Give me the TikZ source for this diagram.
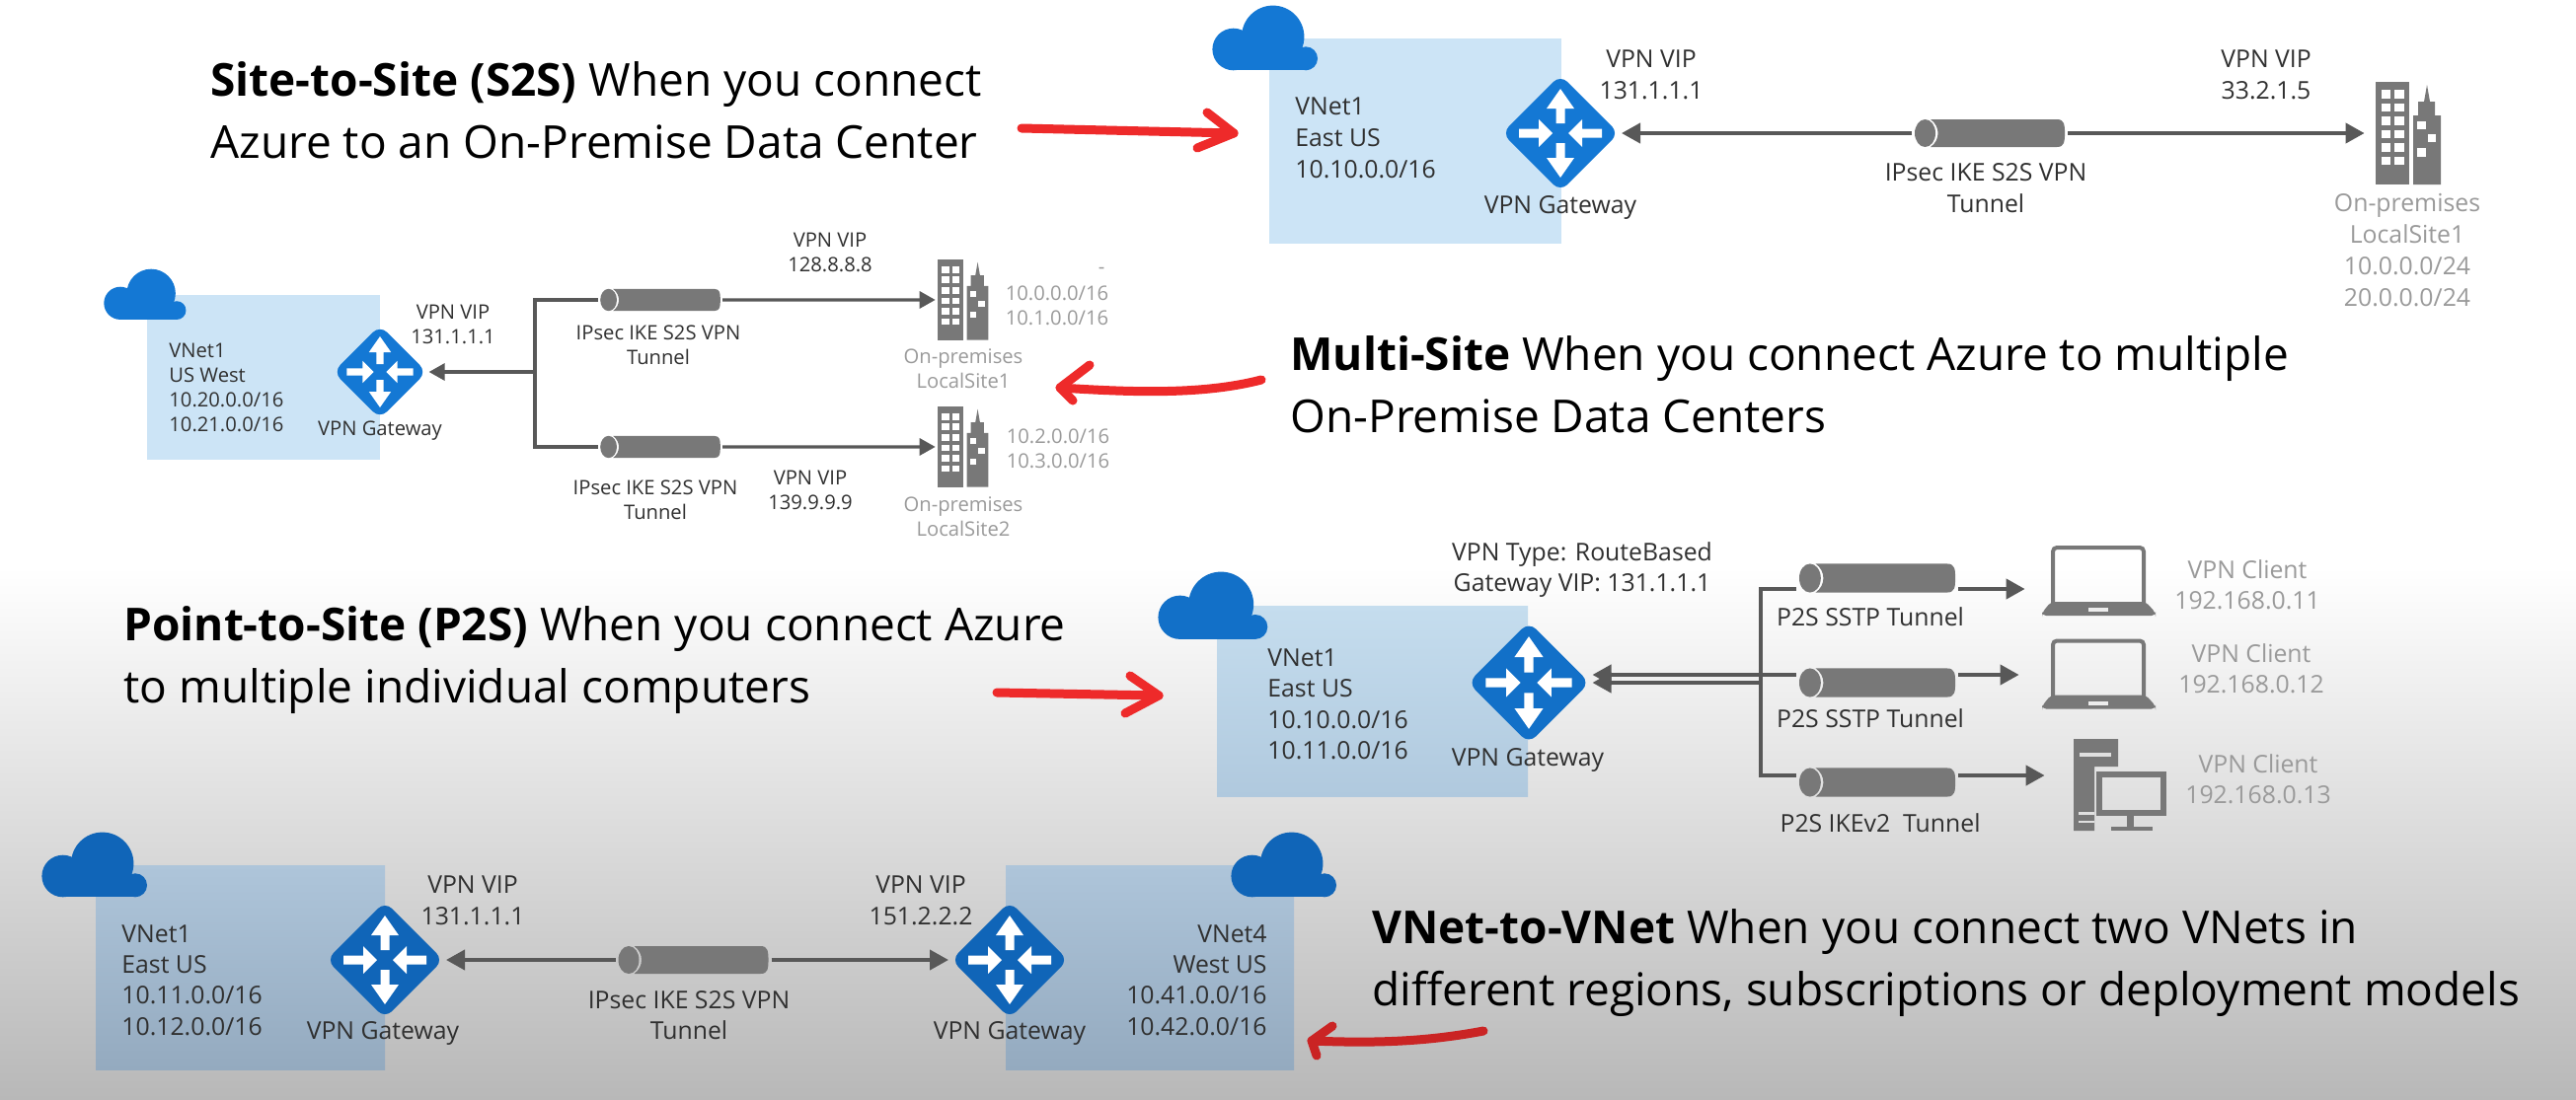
\documentclass[tikz,border=0pt]{standalone}
\usepackage{fontspec}
\setmainfont{Open Sans}
\usetikzlibrary{arrows.meta,shapes.geometric}

\definecolor{azure}{HTML}{1478D4}
\definecolor{azuremid}{HTML}{1270C8}
\definecolor{azuredeep}{HTML}{1065B8}
\definecolor{iconink}{HTML}{787878}
\definecolor{wireink}{HTML}{585858}
\definecolor{labelink}{HTML}{303030}
\definecolor{siteink}{HTML}{9A9A9A}
\definecolor{redink}{HTML}{EE2A2A}
\definecolor{paleblue}{HTML}{CCE4F6}
\definecolor{midtop}{HTML}{C5DDEE}
\definecolor{midbottom}{HTML}{B0C9DE}
\definecolor{deeptop}{HTML}{AEC5DA}
\definecolor{deepbottom}{HTML}{94AABF}
\definecolor{bgend}{HTML}{B8B8B8}

\begin{document}
\begin{tikzpicture}[
    x=.5pt, y=-.5pt,
    vnet/.style={rectangle, inner sep=0pt},
    label/.style={font=\fontsize{12.4}{16}\selectfont, text=labelink, align=center, inner sep=0pt},
    smalllabel/.style={label, font=\fontsize{10.1}{12.5}\selectfont},
    midlabel/.style={label, font=\fontsize{12.4}{15.7}\selectfont},
    headline/.style={font=\fontsize{23}{31.5}\selectfont, align=left, anchor=west, inner sep=0pt},
    wire/.style={draw=wireink, line width=2pt},
    link/.style={wire, -{Triangle[length=9.5pt,width=10pt]}},
    smallwire/.style={draw=wireink, line width=1.6pt},
    smalllink/.style={smallwire, -{Triangle[length=8pt,width=8.5pt]}},
    redmark/.style={draw=redink, line width=4.5pt, line cap=round, line join=round},
    cloud/.pic={
        \fill[#1] (21.7,44) circle[radius=21.3];
        \fill[#1] (61.7,31.3) circle[radius=31.7];
        \fill[#1] (95,53.3) circle[radius=12];
        \fill[#1] (21.7,44) rectangle (95,65.3);
    },
    gate/.pic={
        \node[diamond, aspect=1, rounded corners=5pt, inner sep=0pt, outer sep=1pt, minimum size=60pt, transform shape, fill=#1] (-hub) at (0,0) {};
        \foreach \turn in {0,180} {
            \fill[white, rotate=\turn] (-4.5,-10) -- (-4.5,-25) -- (-14,-25) -- (0,-45) -- (14,-25) -- (4.5,-25) -- (4.5,-10) -- cycle;
            \fill[white, rotate=\turn] (-42,-4.5) -- (-22,-4.5) -- (-22,-14) -- (-8,0) -- (-22,14) -- (-22,4.5) -- (-42,4.5) -- cycle;
        }
    },
    tube/.pic={
        \node[rectangle, inner sep=0pt, outer sep=1.5pt, minimum width=76pt, minimum height=14pt, transform shape] (-body) at (0,0) {};
        \fill[iconink] (-65.5,0) ellipse[x radius=10.5, y radius=14];
        \fill[iconink] (-60,-14) .. controls (-50,-7) and (-50,7) .. (-60,14) -- (68,14) .. controls (76,14) and (76,8) .. (76,0) .. controls (76,-8) and (76,-14) .. (68,-14) -- cycle;
    },
    tower/.pic={
        \node[rectangle, inner sep=0pt, minimum width=33pt, minimum height=52pt, transform shape] (-body) at (33,52) {};
        \fill[iconink] (0,0) rectangle (33.7,104);
        \fill[iconink] (38,104) -- (38,34) -- (43,34) -- (43,20) -- (49,20) -- (52,3) -- (55,20) -- (60,20) -- (60,34) -- (66,34) -- (66,104) -- cycle;
        \foreach \row in {0,...,5} \foreach \col in {0,1}
            \fill[white] ({5.5+13.5*\col},{8.4+13.5*\row}) rectangle +(9.7,8.4);
        \fill[white] (42,40) rectangle +(8.6,8);
        \fill[white] (53,53) rectangle +(8,8);
        \fill[white] (42,67) rectangle +(8.6,8.5);
    },
    laptop/.pic={
        \node[rectangle, inner sep=0pt, minimum width=57.5pt, minimum height=35.5pt] (-body) at (57.5,35.5) {};
        \draw[iconink, line width=2pt, rounded corners=2pt] (11,60) -- (11,2) -- (103,2) -- (103,60);
        \fill[iconink, rounded corners=2pt] (9,57) -- (105,57) -- (115,68) -- (115,71) -- (0,71) -- (0,68) -- cycle;
        \fill[white!93!black] (47,63) rectangle (67,67);
    },
    desktop/.pic={
        \node[rectangle, inner sep=0pt, minimum width=46pt, minimum height=46.5pt] (-body) at (46,46.5) {};
        \fill[iconink] (0,0) -- (45,0) -- (45,28) -- (21,28) -- (21,93) -- (0,93) -- cycle;
        \fill[white!88!black] (6,14) rectangle (38,18);
        \fill[white!88!black] (5,74) rectangle (21,77);
        \fill[white!88!black] (5,83) rectangle (21,85);
        \draw[iconink, line width=3pt] (26,36) rectangle (91,75);
        \fill[iconink] (54,76) rectangle (61,90);
        \fill[iconink] (38,89) rectangle (80,93);
    }
]

\useasboundingbox (0,0) rectangle (2610,1114);
\fill[white] (0,0) rectangle (2610,575);
\shade[top color=white, bottom color=bgend] (0,575) rectangle (2610,1114);

\node[headline] (s2stext) at (213,112) {{\bfseries Site-to-Site (S2S)} When you connect\\Azure to an On-Premise Data Center};
\node[headline] (mstext) at (1307,390) {{\bfseries Multi-Site} When you connect Azure to multiple\\On-Premise Data Centers};
\node[headline] (p2stext) at (125,669) {{\bfseries Point-to-Site (P2S)} When you connect Azure\\to multiple individual computers};
\node[headline] (vvtext) at (1390,976) {{\bfseries VNet-to-VNet} When you connect two VNets in\\different regions, subscriptions or deployment models};

\node[vnet, fill=paleblue, minimum width=148pt, minimum height=104pt] (s2sbox) at (1434,143) {};
\pic at (1228,6) {cloud=azure};
\pic (s2sgate) at (1581,135) {gate=azure};
\pic (s2stube) at (2016,135) {tube};
\pic (s2ssite) at (2407,83) {tower};
\node[label, anchor=west, align=left] (s2snet) at (1312,140) {VNet1\\East US\\10.10.0.0/16};
\node[label] (s2sgatename) at (1581,210) {VPN Gateway};
\node[label] (s2svip) at (1673,76) {VPN VIP\\131.1.1.1};
\node[label] (s2ssitevip) at (2296,76) {VPN VIP\\33.2.1.5};
\node[label] (s2stubename) at (2012,191) {IPsec IKE S2S VPN\\Tunnel};
\node[label, text=siteink] (s2ssitename) at (2439,254) {On-premises\\LocalSite1\\10.0.0.0/24\\20.0.0.0/24};
\draw[link] (s2stube-body.west) -- (s2sgate-hub.east);
\draw[link, shorten >=5.5pt] (s2stube-body.east) -- (s2ssite-body.west);

\node[vnet, fill=paleblue, minimum width=118pt, minimum height=83.5pt] (msbox) at (267,382.5) {};
\pic[scale=.78] at (105,273) {cloud=azure};
\pic[scale=.8] (msgate) at (385,377) {gate=azure};
\pic[scale=.8] (mstube1) at (669,304) {tube};
\pic[scale=.8] (mstube2) at (669,453) {tube};
\pic[scale=.78] (mssite1) at (950,263.4) {tower};
\pic[scale=.78] (mssite2) at (950,412.4) {tower};
\coordinate (msjoin) at (542,377);
\node[smalllabel, anchor=west, align=left] (msnet) at (171,393) {VNet1\\US West\\10.20.0.0/16\\10.21.0.0/16};
\node[smalllabel] (msgatename) at (385,437) {VPN Gateway};
\node[smalllabel] (msvip) at (459,329) {VPN VIP\\131.1.1.1};
\node[smalllabel] (msvip1) at (841,256) {VPN VIP\\128.8.8.8};
\node[smalllabel] (msvip2) at (821,497) {VPN VIP\\139.9.9.9};
\node[smalllabel] (mstubename1) at (667,350) {IPsec IKE S2S VPN\\Tunnel};
\node[smalllabel] (mstubename2) at (664,507) {IPsec IKE S2S VPN\\Tunnel};
\node[smalllabel, text=siteink] (mssitename1) at (976,374) {On-premises\\LocalSite1};
\node[smalllabel, text=siteink] (mssitename2) at (976,524) {On-premises\\LocalSite2};
\node[smalllabel, text=siteink] (msnets1) at (1071,310) {10.0.0.0/16\\10.1.0.0/16};
\node[smalllabel, text=siteink] (msnets2) at (1072,455) {10.2.0.0/16\\10.3.0.0/16};
\node[smalllabel, text=siteink] (msspeck) at (1116,274) {-};
\draw[smalllink] (msjoin) -- (msgate-hub.east);
\draw[smallwire] (mstube1-body.west) -| (msjoin);
\draw[smallwire] (mstube2-body.west) -| (msjoin);
\draw[smalllink, shorten >=1pt] (mstube1-body.east) -- (mssite1-body.west);
\draw[smalllink, shorten >=1pt] (mstube2-body.east) -- (mssite2-body.west);

\node[vnet, top color=midtop, bottom color=midbottom, minimum width=157.5pt, minimum height=96.5pt] (p2sbox) at (1390.5,710.5) {};
\pic[scale=1.04] at (1173,580) {cloud=azuremid};
\pic[scale=1.04] (p2sgate) at (1549,692) {gate=azuremid};
\pic[scale=1.04] (p2stube1) at (1902,586) {tube};
\pic[scale=1.04] (p2stube2) at (1902,692) {tube};
\pic[scale=1.04] (p2stube3) at (1902,793) {tube};
\pic (p2spc1) at (2069,553) {laptop};
\pic (p2spc2) at (2069,647.5) {laptop};
\pic (p2spc3) at (2101,749) {desktop};
\coordinate (p2sjoin) at (1784,692);
\node[midlabel, anchor=west, align=left] (p2snet) at (1284,714) {VNet1\\East US\\10.10.0.0/16\\10.11.0.0/16};
\node[midlabel] (p2sgatename) at (1548,770) {VPN Gateway};
\node[midlabel] (p2stype) at (1603,577.5) {VPN Type: RouteBased\\Gateway VIP: 131.1.1.1};
\node[midlabel] (p2stubename1) at (1895,625) {P2S SSTP Tunnel};
\node[midlabel] (p2stubename2) at (1895,728) {P2S SSTP Tunnel};
\node[midlabel] (p2stubename3) at (1905,834) {P2S IKEv2\ \ Tunnel};
\node[midlabel, text=siteink] (p2sclient1) at (2277,593) {VPN Client\\192.168.0.11};
\node[midlabel, text=siteink] (p2sclient2) at (2281,677.5) {VPN Client\\192.168.0.12};
\node[midlabel, text=siteink] (p2sclient3) at (2288,790) {VPN Client\\192.168.0.13};
\draw[link] ([yshift=4pt]p2stube2-body.west) -- ([yshift=4pt]p2sgate-hub.east);
\draw[link] (p2sjoin) -- (p2sgate-hub.east);
\draw[wire] ([yshift=-5.5pt]p2stube1-body.west) -| (p2sjoin);
\draw[wire] ([yshift=3.5pt]p2stube3-body.west) -| (p2sjoin);
\draw[link, shorten >=8.5pt] ([yshift=-5.5pt]p2stube1-body.east) -- ([yshift=-5.5pt]p2stube1-body.east -| p2spc1-body.west);
\draw[link, shorten >=11.5pt] ([yshift=4pt]p2stube2-body.east) -- ([yshift=4pt]p2stube2-body.east -| p2spc2-body.west);
\draw[link, shorten >=14.5pt] ([yshift=3.5pt]p2stube3-body.east) -- ([yshift=3.5pt]p2stube3-body.east -| p2spc3-body.west);

\node[vnet, top color=deeptop, bottom color=deepbottom, minimum width=146.5pt, minimum height=103.5pt] (vvbox1) at (243.5,980.5) {};
\node[vnet, top color=deeptop, bottom color=deepbottom, minimum width=146pt, minimum height=103.5pt] (vvbox2) at (1165,980.5) {};
\pic at (42,844) {cloud=azuredeep};
\pic at (1247,844) {cloud=azuredeep};
\pic (vvgate1) at (390,973) {gate=azuredeep};
\pic (vvgate2) at (1023,973) {gate=azuredeep};
\pic (vvtube) at (702.5,973) {tube};
\node[midlabel, anchor=west, align=left] (vvnet1) at (123,993.5) {VNet1\\East US\\10.11.0.0/16\\10.12.0.0/16};
\node[midlabel, anchor=east, align=right] (vvnet2) at (1284,993.5) {VNet4\\West US\\10.41.0.0/16\\10.42.0.0/16};
\node[midlabel] (vvgatename1) at (388,1047) {VPN Gateway};
\node[midlabel] (vvgatename2) at (1023,1047) {VPN Gateway};
\node[midlabel] (vvvip1) at (479,913) {VPN VIP\\131.1.1.1};
\node[midlabel] (vvvip2) at (933,913) {VPN VIP\\151.2.2.2};
\node[midlabel] (vvtubename) at (698,1029) {IPsec IKE S2S VPN\\Tunnel};
\draw[link] (vvtube-body.west) -- (vvgate1-hub.east);
\draw[link] (vvtube-body.east) -- (vvgate2-hub.west);

\coordinate (s2stail) at (1035,130);
\coordinate (s2stip) at (1250,135);
\draw[redmark] (s2stail) -- (s2stip);
\draw[redmark] (1223,114) -- (s2stip) -- (1213,150);

\coordinate (mstail) at (1278,385);
\coordinate (mstip) at (1074,393);
\draw[redmark] (mstail) .. controls (1220,400) and (1150,398) .. (mstip);
\draw[redmark] (1104,370) -- (mstip) -- (1087,406);

\coordinate (p2stail) at (1010,702);
\coordinate (p2stip) at (1174,705);
\draw[redmark] (p2stail) -- (p2stip);
\draw[redmark] (1145,685) -- (p2stip) -- (1140,723);

\coordinate (vvtail) at (1503,1045);
\coordinate (vvtip) at (1329,1055);
\draw[redmark, draw=redink!85!black] (vvtail) .. controls (1450,1055) and (1400,1058) .. (vvtip);
\draw[redmark, draw=redink!85!black] (1350,1040) -- (vvtip) -- (1334,1070);

\end{tikzpicture}
\end{document}
